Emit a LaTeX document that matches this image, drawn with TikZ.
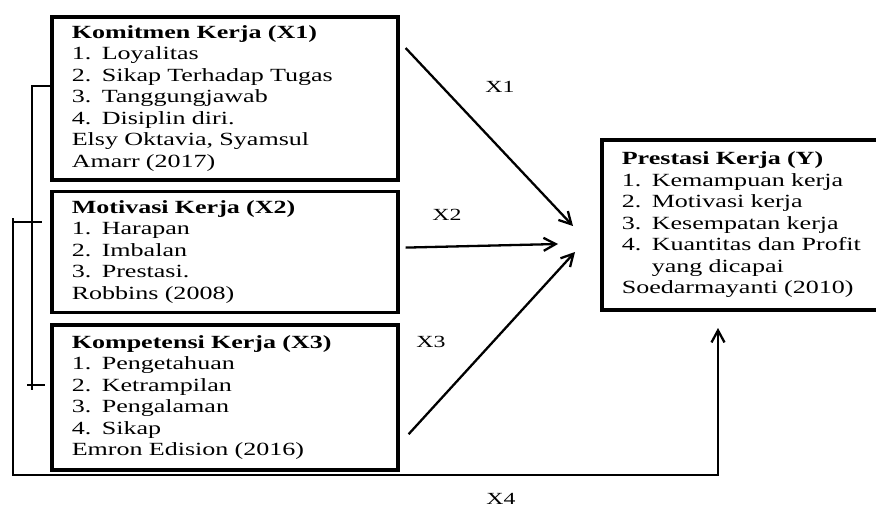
\documentclass[tikz,border=0pt]{standalone}
\usepackage{fontspec}
\setmainfont{Liberation Serif}[FakeStretch=1.4]
\usetikzlibrary{arrows.meta,positioning,calc}

\newcommand{\butir}[2]{\makebox[30pt][l]{#1}#2}

\begin{document}
\begin{tikzpicture}[
  x=1pt,y=-1pt,
  box/.style={draw,line width=3.6pt,anchor=north west,align=left,inner xsep=20pt,
              inner ysep=0pt,font=\fontsize{18.6}{21.5}\selectfont},
  lbl/.style={font=\fontsize{17}{20}\selectfont},
  arr/.style={-{Straight Barb[length=12pt,width=13pt]},line width=2.3pt},
  link/.style={line width=2.3pt}
]
\useasboundingbox (0,0) rectangle (876,508);
\clip (0,0) rectangle (876,508);

\node[box,text width=306pt,minimum height=163pt] (komitmen) at (50,15)
  {\textbf{Komitmen Kerja (X1)}\\\butir{1.}{Loyalitas}\\\butir{2.}{Sikap Terhadap Tugas}\\
   \butir{3.}{Tanggungjawab}\\\butir{4.}{Disiplin diri.}\\Elsy Oktavia, Syamsul\\Amarr (2017)};
\node[box,text width=306pt,minimum height=121pt,below=8pt of komitmen.south west,anchor=north west] (motivasi)
  {\textbf{Motivasi Kerja (X2)}\\\butir{1.}{Harapan}\\\butir{2.}{Imbalan}\\
   \butir{3.}{Prestasi.}\\Robbins (2008)};
\node[box,text width=306pt,minimum height=145pt,below=9pt of motivasi.south west,anchor=north west] (kompetensi)
  {\textbf{Kompetensi Kerja (X3)}\\\butir{1.}{Pengetahuan}\\\butir{2.}{Ketrampilan}\\
   \butir{3.}{Pengalaman}\\\butir{4.}{Sikap}\\Emron Edision (2016)};
\node[box,text width=280pt,minimum height=170pt] (prestasi) at (600,138)
  {\textbf{Prestasi Kerja (Y)}\\\butir{1.}{Kemampuan kerja}\\\butir{2.}{Motivasi kerja}\\
   \butir{3.}{Kesempatan kerja}\\\butir{4.}{Kuantitas dan Profit}\\\hspace*{30pt}yang dicapai\\
   Soedarmayanti (2010)};

% ujung panah di depan kotak Y
\coordinate (tip1) at ($(prestasi.north west)+(-27,88)$);
\coordinate (tip2) at ($(prestasi.north west)+(-42,106)$);
\coordinate (tip3) at ($(prestasi.north west)+(-25,114)$);
\coordinate (tip4) at (718,328);

\draw[arr] ([shift={(6,33)}]komitmen.north east) -- (tip1);
\draw[arr] ([shift={(6,58)}]motivasi.north east) -- (tip2);
\draw[arr] ([shift={(9,111)}]kompetensi.north east) -- (tip3);

\node[lbl] (lx1) at (500,87) {X1};
\node[lbl] (lx2) at (447,215) {X2};
\node[lbl] (lx3) at (431,342) {X3};
\node[lbl] (lx4) at (501,499) {X4};

% garis hubungan di kiri
\coordinate (kaki1) at (32,390);
\coordinate (atas4) at (13,218);
\draw[link] ([yshift=-71pt]komitmen.north west) -| (kaki1);
\draw[link] ($(kaki1)+(-5,-5)$) -- ($(kaki1)+(13,-5)$);
\draw[link] ($(atas4)+(0,4)$) -- ($(atas4)+(29,4)$);
\draw[arr] (atas4) -- (13,475) -| (tip4);
\end{tikzpicture}
\end{document}
